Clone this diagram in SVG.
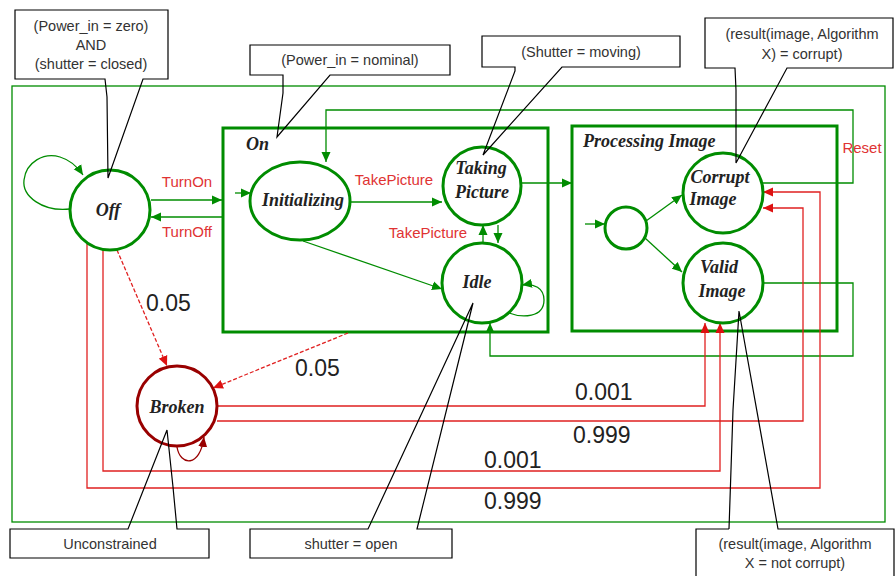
<svg xmlns="http://www.w3.org/2000/svg" width="895" height="576" viewBox="0 0 895 576">
<style>
.bg{fill:#fff}
.frame{fill:none;stroke:#008c00;stroke-width:1.3}
.box{fill:none;stroke:#008c00;stroke-width:3}
.g{fill:none;stroke:#008c00;stroke-width:1.3}
.r{fill:none;stroke:#e02020;stroke-width:1.3}
.rd{fill:none;stroke:#e02020;stroke-width:1.3;stroke-dasharray:4 2}
.node{fill:#fff;stroke:#008c00;stroke-width:3}
.broken{fill:#fff;stroke:#990000;stroke-width:3}
.nl{font-family:"Liberation Serif","Times New Roman",serif;font-weight:bold;font-style:italic;font-size:18px;fill:#222;text-anchor:middle}
.sl{font-family:"Liberation Serif","Times New Roman",serif;font-weight:bold;font-style:italic;font-size:18px;fill:#222}
.ev{font-family:"Liberation Sans",Arial,sans-serif;font-size:15px;fill:#e03333;text-anchor:middle}
.pr{font-family:"Liberation Sans",Arial,sans-serif;font-size:23px;fill:#222}
.cb{fill:#fff;stroke:none}
.co{fill:none;stroke:#000;stroke-width:1.2}
.ct{font-family:"Liberation Sans",Arial,sans-serif;font-size:14.5px;fill:#333;text-anchor:middle}
</style>
<defs>
<marker id="ag" viewBox="0 0 10 10" refX="10" refY="5" markerWidth="10" markerHeight="10" markerUnits="userSpaceOnUse" orient="auto"><path d="M0,0.5 L10,5 L0,9.5 z" fill="#008c00"/></marker>
<marker id="ar" viewBox="0 0 10 10" refX="10" refY="5" markerWidth="10" markerHeight="10" markerUnits="userSpaceOnUse" orient="auto"><path d="M0,0.5 L10,5 L0,9.5 z" fill="#dd1111"/></marker>
<marker id="adr" viewBox="0 0 10 10" refX="10" refY="5" markerWidth="10" markerHeight="10" markerUnits="userSpaceOnUse" orient="auto"><path d="M0,0.5 L10,5 L0,9.5 z" fill="#990000"/></marker>
</defs>
<rect class="bg" x="0" y="0" width="895" height="576"/>

<g id="system-frame">
<rect class="frame" x="12" y="86" width="873" height="436"/>
</g>

<g id="On">
<rect class="box" x="223" y="128" width="325" height="204"/>
<text class="sl" x="246" y="150">On</text>
</g>

<g id="ProcessingImage">
<rect class="box" x="572" y="126" width="265" height="205"/>
<text class="sl" x="583" y="147">Processing Image</text>
</g>

<g id="connectors">
<!-- Off self loop -->
<path class="g" d="M70,209 C42,212 22,196 24,180 C26,162 44,152 60,157 C70,160 77,166 83,175" marker-end="url(#ag)"/>
<!-- TurnOn / TurnOff -->
<path class="g" d="M151,200 H222" marker-end="url(#ag)"/>
<path class="g" d="M222,217 H151" marker-end="url(#ag)"/>
<text class="ev" x="187" y="187">TurnOn</text>
<text class="ev" x="187" y="237">TurnOff</text>
<!-- initial into Initializing -->
<path class="g" d="M235,193 H251" marker-end="url(#ag)"/>
<!-- Initializing -> Taking Picture -->
<path class="g" d="M350,202 H442" marker-end="url(#ag)"/>
<text class="ev" x="394" y="185">TakePicture</text>
<!-- Initializing -> Idle -->
<path class="g" d="M303,241 L442,289" marker-end="url(#ag)"/>
<!-- Idle <-> Taking Picture -->
<path class="g" d="M483,244 V225" marker-end="url(#ag)"/>
<path class="g" d="M498,225 V243" marker-end="url(#ag)"/>
<text class="ev" x="428" y="238">TakePicture</text>
<!-- Idle self loop -->
<path class="g" d="M509,313 C522,318 544,318 544,300 C544,288 534,283 522,285" marker-end="url(#ag)"/>
<!-- Taking Picture -> Processing Image -->
<path class="g" d="M522,183 H572" marker-end="url(#ag)"/>
<!-- Reset: Corrupt -> Initializing -->
<path class="g" d="M763,183 H853 V110 H326 V162" marker-end="url(#ag)"/>
<text class="ev" x="862" y="153">Reset</text>
<!-- Valid -> Idle -->
<path class="g" d="M763,283 H853 V356 H490 V323" marker-end="url(#ag)"/>
<!-- inner initial -->
<path class="g" d="M585,224 H605" marker-end="url(#ag)"/>
<path class="g" d="M646,221 L682,195" marker-end="url(#ag)"/>
<path class="g" d="M645,238 L682,272" marker-end="url(#ag)"/>
<!-- to Broken -->
<path class="rd" d="M117,250 L167,366" marker-end="url(#ar)"/>
<text class="pr" x="146" y="311">0.05</text>
<path class="rd" d="M348,333 L213,388" marker-end="url(#ar)"/>
<text class="pr" x="295" y="376">0.05</text>
<!-- Broken self loop -->
<path fill="none" stroke="#990000" stroke-width="1.3" d="M177,447 C180,466 200,468 204,437" marker-end="url(#adr)"/>
<!-- Broken -> Valid / Corrupt -->
<path class="r" d="M217,406 H705 V323" marker-end="url(#ar)"/>
<text class="pr" x="575" y="400">0.001</text>
<path class="r" d="M217,421 H803 V208 H763" marker-end="url(#ar)"/>
<text class="pr" x="573" y="443">0.999</text>
<!-- Off -> Valid / Corrupt -->
<path class="r" d="M103,249 V471 H720 V323" marker-end="url(#ar)"/>
<text class="pr" x="484" y="468">0.001</text>
<path class="r" d="M87,244 V488 H820 V192 H763" marker-end="url(#ar)"/>
<text class="pr" x="484" y="509">0.999</text>
</g>

<g id="Off">
<circle class="node" cx="110" cy="210" r="40"/>
<text class="nl" x="108" y="216">Off</text>
</g>
<g id="Initializing">
<ellipse class="node" cx="300" cy="201" rx="50" ry="39"/>
<text class="nl" x="303" y="206">Initializing</text>
</g>
<g id="TakingPicture">
<circle class="node" cx="482" cy="186" r="39"/>
<text class="nl" x="481" y="174">Taking</text>
<text class="nl" x="482" y="198">Picture</text>
</g>
<g id="Idle">
<circle class="node" cx="482" cy="283" r="40"/>
<text class="nl" x="477" y="288">Idle</text>
</g>
<g id="ProcInit">
<circle class="node" cx="626" cy="228" r="21"/>
</g>
<g id="CorruptImage">
<circle class="node" cx="723" cy="193" r="40"/>
<text class="nl" x="720" y="183">Corrupt</text>
<text class="nl" x="713" y="205">Image</text>
</g>
<g id="ValidImage">
<circle class="node" cx="723" cy="283" r="40"/>
<text class="nl" x="719" y="273">Valid</text>
<text class="nl" x="722" y="297">Image</text>
</g>
<g id="Broken">
<circle class="broken" cx="177" cy="406" r="40"/>
<text class="nl" x="177" y="413">Broken</text>
</g>

<g id="note-off">
<rect class="cb" x="15" y="10" width="153" height="69"/>
<path class="co" d="M105,79 H15 V10 H168 V79 H143 L108,178 L107,97 Z"/>
<text class="ct" x="91" y="31">(Power_in = zero)</text>
<text class="ct" x="91" y="50">AND</text>
<text class="ct" x="91" y="69">(shutter = closed)</text>
</g>
<g id="note-on">
<rect class="cb" x="250" y="45" width="200" height="30"/>
<path class="co" d="M283,75 H250 V45 H450 V75 H330 L277,137 L283,93 Z"/>
<text class="ct" x="350" y="65">(Power_in = nominal)</text>
</g>
<g id="note-taking">
<rect class="cb" x="482" y="36" width="198" height="31"/>
<path class="co" d="M515,67 H482 V36 H680 V67 H562 L483,155 L515,71 Z"/>
<text class="ct" x="581" y="57">(Shutter = moving)</text>
</g>
<g id="note-corrupt">
<rect class="cb" x="705" y="18" width="188" height="50"/>
<path class="co" d="M735,68 H705 V18 H893 V68 H787 L736,163 L736,90 Z"/>
<text class="ct" x="802" y="39">(result(image, Algorithm</text>
<text class="ct" x="802" y="59">X) = corrupt)</text>
</g>
<g id="note-broken">
<rect class="cb" x="10" y="529" width="199" height="29"/>
<path class="co" d="M128,529 H10 V558 H209 V529 H177 L173,487 L167,430 Z"/>
<text class="ct" x="110" y="549">Unconstrained</text>
</g>
<g id="note-idle">
<rect class="cb" x="250" y="529" width="202" height="29"/>
<path class="co" d="M368,529 H250 V558 H452 V529 H417 L473,303 Z"/>
<text class="ct" x="351" y="549">shutter = open</text>
</g>
<g id="note-valid">
<rect class="cb" x="696" y="529" width="198" height="60"/>
<path class="co" d="M729,529 H696 V590 M894,590 V529 H778 L739,311 L733,410 L729,529"/>
<text class="ct" x="795" y="549">(result(image, Algorithm</text>
<text class="ct" x="795" y="568">X = not corrupt)</text>
</g>
</svg>
